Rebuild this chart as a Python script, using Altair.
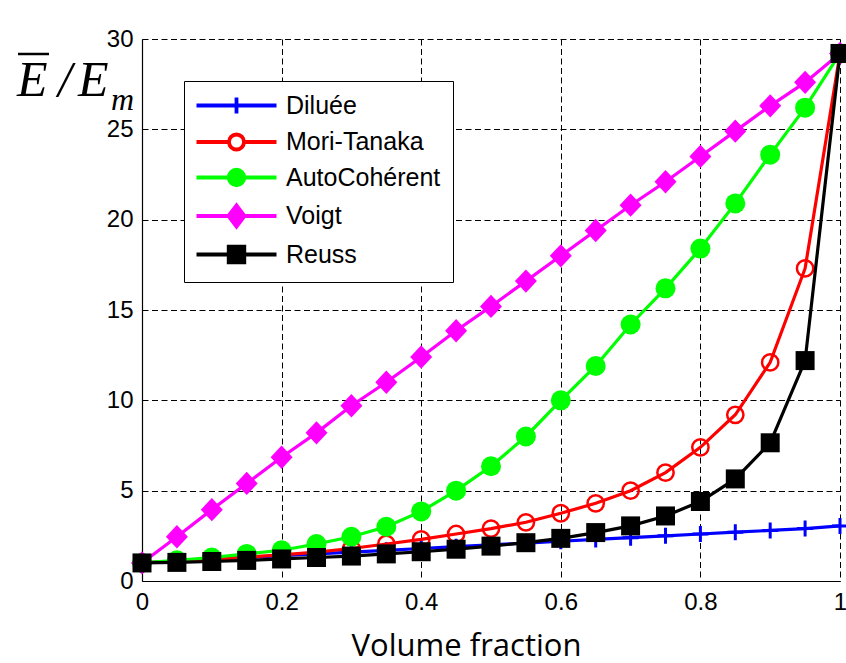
import altair as alt
import pandas as pd

# ---------------- data ----------------
fractions = [0.0, 0.05, 0.1, 0.15, 0.2, 0.25, 0.3, 0.35, 0.4, 0.45, 0.5,
             0.55, 0.6, 0.65, 0.7, 0.75, 0.8, 0.85, 0.9, 0.95, 1.0]
dilute = [1.0, 1.1, 1.2, 1.3, 1.4, 1.5, 1.6, 1.7, 1.8, 1.9, 2.0,
          2.1, 2.2, 2.3, 2.4, 2.5, 2.6, 2.7, 2.8, 2.9, 3.05]
mori_tanaka = [1.0, 1.1, 1.2, 1.32, 1.45, 1.6, 1.8, 2.05, 2.3, 2.6, 2.9,
               3.25, 3.75, 4.3, 5.0, 6.0, 7.4, 9.2, 12.1, 17.3, 29.2]
auto_coherent = [1.0, 1.15, 1.3, 1.5, 1.7, 2.05, 2.45, 3.0, 3.85, 5.0, 6.35,
                 8.0, 10.0, 11.9, 14.2, 16.2, 18.4, 20.9, 23.6, 26.2, 29.2]
voigt = [1.0, 2.45, 3.95, 5.4, 6.85, 8.2, 9.7, 11.0, 12.4, 13.85, 15.2,
         16.6, 18.0, 19.4, 20.8, 22.1, 23.5, 24.9, 26.3, 27.6, 29.2]
reuss = [1.0, 1.03, 1.08, 1.14, 1.22, 1.3, 1.38, 1.5, 1.62, 1.76, 1.93,
         2.12, 2.36, 2.68, 3.05, 3.6, 4.4, 5.65, 7.65, 12.2, 29.2]

series_names = ["Diluée", "Mori-Tanaka", "AutoCohérent", "Voigt", "Reuss"]
series_values = [dilute, mori_tanaka, auto_coherent, voigt, reuss]
series_colors = ["#0000ff", "#ff0000", "#00ff00", "#ff00ff", "#000000"]

x_ticks = [0, 0.2, 0.4, 0.6, 0.8, 1]
y_ticks = [0, 5, 10, 15, 20, 25, 30]
x_title = "Volume fraction"

# ---------------- table ----------------
rows = []
for name, vals in zip(series_names, series_values):
    for f, v in zip(fractions, vals):
        rows.append({"f": f, "E": v, "series": name})
df = pd.DataFrame(rows)

# ---------------- styles ----------------
marker_style = {
    "Diluée": dict(shape="M-1,0L1,0M0,-1L0,1", size=256, filled=False, strokeWidth=3),
    "Mori-Tanaka": dict(shape="circle", size=266, filled=False, strokeWidth=2.5),
    "AutoCohérent": dict(shape="circle", size=400, filled=True),
    "Voigt": dict(shape="M-1,0L0,-1.06L1,0L0,1.06Z", size=484, filled=True),
    "Reuss": dict(shape="square", size=361, filled=True),
}
legend_paths = [
    "M-4,0L4,0M0,-0.8L0,0.8",
    "M-4,0L-0.75,0M0.75,0L4,0M0.75,0A0.75,0.75,0,1,1,-0.75,0A0.75,0.75,0,1,1,0.75,0",
    "M-4,0L4,0M0.78,0A0.78,0.78,0,1,1,-0.78,0A0.78,0.78,0,1,1,0.78,0Z",
    "M-4,0L4,0M-0.8,0L0,-1.05L0.8,0L0,1.05Z",
    "M-4,0L4,0M-0.78,-0.78L0.78,-0.78L0.78,0.78L-0.78,0.78Z",
]
legend_fills = ["transparent", "transparent", "#00ff00", "#ff00ff", "#000000"]

x_enc = alt.X("f:Q", scale=alt.Scale(domain=[0, 1], nice=False, zero=False),
              axis=alt.Axis(values=x_ticks, format="~g", title=x_title,
                            titleX=324, titleY=74, titleAlign="center",
                            titleBaseline="alphabetic", labelPadding=9))
y_enc = alt.Y("E:Q", scale=alt.Scale(domain=[0, 30], nice=False),
              axis=alt.Axis(values=y_ticks, format="d", title=None, labelPadding=9))

base = alt.Chart(df)
layers = []
for name, col in zip(series_names, series_colors):
    sub = base.transform_filter(alt.datum.series == name)
    layers.append(sub.mark_line(color=col, strokeWidth=3.2).encode(x=x_enc, y=y_enc))
    layers.append(sub.mark_point(color=col, opacity=1, **marker_style[name]).encode(x=x_enc, y=y_enc))

legend_def = alt.Legend(
    orient="none", legendX=42, legendY=42, title=None,
    symbolSize=400, symbolStrokeWidth=3.8, symbolOffset=28, labelOffset=37,
    labelFont="Liberation Sans", labelFontSize=25, labelColor="black",
    padding=12, rowPadding=4.5, fillColor="white", strokeColor="black",
    labelLimit=400,
)
legend_layer = base.mark_point(size=0, opacity=1, filled=True).encode(
    x=x_enc, y=y_enc,
    shape=alt.Shape("series:N", scale=alt.Scale(domain=series_names, range=legend_paths), legend=legend_def),
    fill=alt.Fill("series:N", scale=alt.Scale(domain=series_names, range=legend_fills), legend=legend_def),
    stroke=alt.Stroke("series:N", scale=alt.Scale(domain=series_names, range=series_colors), legend=legend_def),
)

one = alt.Data(values=[{"k": 0}])
serif = dict(font="Liberation Serif", fontStyle="italic", color="black", align="left",
             baseline="alphabetic")
ylab = [
    alt.Chart(one).mark_text(text="E", fontSize=50, **serif).encode(x=alt.value(-125), y=alt.value(57)),
    alt.Chart(one).mark_rule(color="black", strokeWidth=2.5).encode(
        x=alt.value(-124), x2=alt.value(-93), y=alt.value(15)),
    alt.Chart(one).mark_text(text="/", fontSize=50, **serif).encode(x=alt.value(-84), y=alt.value(57)),
    alt.Chart(one).mark_text(text="E", fontSize=50, **serif).encode(x=alt.value(-64), y=alt.value(57)),
    alt.Chart(one).mark_text(text="m", fontSize=32, **serif).encode(x=alt.value(-31), y=alt.value(71)),
]

chart = alt.layer(*layers, legend_layer, *ylab).properties(
    width=698, height=542,
    padding={"left": 142, "top": 39, "right": 6, "bottom": 82},
    autosize=alt.AutoSizeParams(type="none"),
    background="white",
).configure_view(stroke=None).configure_axis(
    domainColor="black", domainWidth=1.2,
    grid=True, gridColor="black", gridDash=[6, 3.5], gridWidth=1, gridOpacity=1,
    ticks=False, labelFont="Liberation Sans", labelFontSize=24, labelColor="black",
    labelFlush=False, labelOverlap=False,
    titleFont="Open Sans", titleFontSize=31, titleFontWeight="normal", titleColor="black",
)

chart.save("out.html", embed_options={"renderer": "svg", "actions": False})
